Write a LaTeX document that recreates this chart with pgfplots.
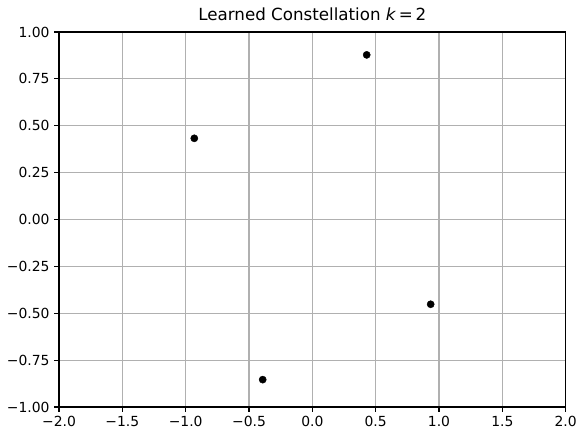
\documentclass[border=0pt]{standalone}
\usepackage{fontspec}
\setmainfont{DejaVu Sans}
\usepackage{pgfplots}
\pgfplotsset{compat=1.18}
\begin{document}
\begin{tikzpicture}
\begin{axis}[
  scale only axis,
  width=506.7pt, height=375pt,
  xmin=-2, xmax=2, ymin=-1, ymax=1,
  xtick={-2,-1.5,-1,-0.5,0,0.5,1,1.5,2},
  xticklabels={−2.0,−1.5,−1.0,−0.5,0.0,0.5,1.0,1.5,2.0},
  ytick={-1,-0.75,-0.5,-0.25,0,0.25,0.5,0.75,1},
  yticklabels={−1.00,−0.75,−0.50,−0.25,0.00,0.25,0.50,0.75,1.00},
  tick label style={font=\fontsize{13.9}{16}\selectfont},
  xticklabel style={yshift=-1pt},
  yticklabel style={xshift=-1pt},
  tick align=outside, tick pos=left,
  major tick length=4.9pt,
  every tick/.style={black, line width=1.1pt},
  axis line style={line width=1.1pt},
  grid=major,
  major grid style={color=black!31, line width=1.1pt},
  title={Learned Constellation \textit{k}\,=\,2},
  title style={font=\fontsize{16.7}{19}\selectfont, yshift=2pt},
]
\addplot[only marks, mark=*, mark size=3.6pt, black] coordinates {
  (-0.932,0.433) (0.429,0.878) (0.934,-0.452) (-0.392,-0.854)
};
\end{axis}
\pgfresetboundingbox
\path ([shift={(-59pt,-25pt)}]current axis.south west) rectangle ([shift={(10.3pt,32pt)}]current axis.north east);
\end{tikzpicture}
\end{document}
